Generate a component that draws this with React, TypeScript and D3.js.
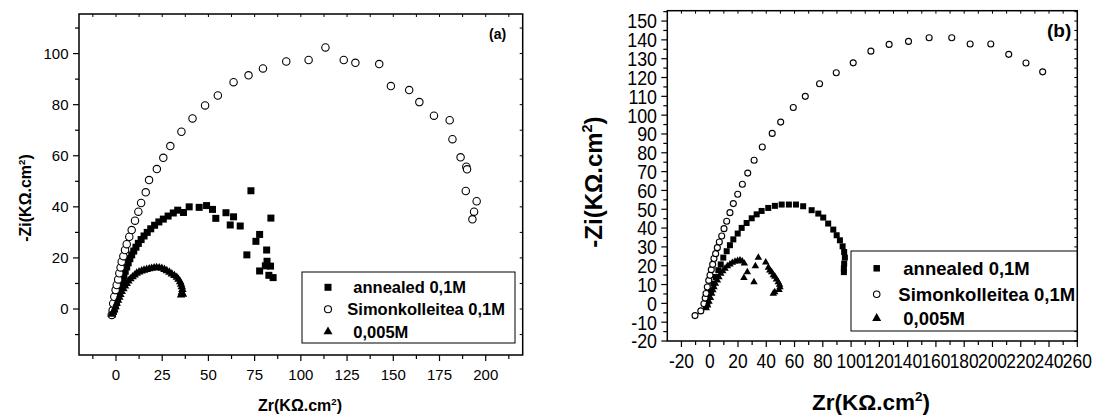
import React from 'react';
import * as d3 from 'd3';

type P = [number, number];

// ---------- Panel (a) data ----------
const annealedA: P[] = [
  [-2, -2], [-1.5, -1], [-1, 0], [-0.4, 1.2], [0.2, 2.5], [0.8, 4], [1.3, 5.5], [1.9, 7], [2.5, 8.5],
  [3.1, 10], [3.7, 11.6], [4.3, 13.2], [5, 14.8], [5.8, 16.5], [6.6, 18.1], [7.5, 19.7], [8.5, 21.2],
  [9.6, 22.7], [10.8, 24.2], [12.1, 25.7], [13.6, 27.2], [15.2, 28.6], [16.9, 30], [18.8, 31.4],
  [20.9, 32.8], [23.2, 34.1], [25.6, 35.2], [28.2, 36.4], [31, 37.6], [33.4, 38.7], [36.5, 37.8],
  [39.6, 40], [45, 39.8], [49, 40.5], [52.2, 39], [54, 35.5], [59.5, 37.7], [63.6, 36.1], [61.8, 32.9],
  [67.2, 32.5], [73, 46.3], [70.8, 21.2], [75.7, 26.5], [77.7, 29.2], [83.8, 35.6], [81.5, 23.1],
  [81.7, 18.7], [80.8, 16.9], [83.6, 16.8], [77.7, 14.9], [82.7, 13.2], [85, 12.3],
];
const simonA: P[] = [
  [-2.3, -2.3], [-1.8, -0.5], [-1.5, 2.2], [-0.9, 4.8], [-0.2, 7.4], [0.4, 9.4], [1.2, 11.6], [1.8, 14],
  [2.5, 16.3], [3.1, 18.5], [4, 20.7], [4.9, 23.1], [5.8, 25.4], [7.2, 28.3], [8.5, 30.9], [10.3, 34.6],
  [12.1, 38.1], [13.6, 41.5], [16.1, 45.7], [17.9, 50.5], [22.1, 54.8], [25.6, 59.2], [29.4, 63.8],
  [35.4, 69.4], [41.4, 74.6], [48.2, 79.7], [55.1, 83.6], [63.6, 88.8], [71.7, 91.5], [79.5, 94.2],
  [92.1, 96.9], [104.2, 97.5], [113.3, 102.4], [123.2, 97.5], [129.5, 96.4], [142.4, 95.9], [148.7, 87.3],
  [158.6, 85.7], [164.1, 81], [172, 75.7], [180.5, 73.9], [182, 66.5], [186.4, 59.4], [189.5, 55.7],
  [189.9, 54.7], [189.2, 46.2], [195.1, 42.2], [193.7, 38.1], [192.8, 35.1],
];
const dilutedA: P[] = [
  [-2.3, -2.1], [-1.6, -1.2], [-0.9, -0.3], [-0.2, 0.9], [0.4, 2.2], [1.1, 3.4], [1.8, 4.6], [2.4, 5.7],
  [3.1, 6.8], [4, 7.9], [4.9, 9], [5.8, 10], [6.7, 11], [7.8, 11.8], [9, 12.6], [10.1, 13.3], [11.2, 14],
  [12.5, 14.5], [13.9, 14.9], [15.2, 15.2], [16.6, 15.5], [18, 15.7], [19.3, 15.9], [20.7, 16.1], [22, 16.2],
  [23.4, 16.1], [24.8, 15.9], [26.2, 15.5], [27.5, 15], [28.9, 14.4], [30.2, 13.7], [31.6, 13.1],
  [32.9, 12.4], [33.8, 11.6], [34.7, 10.7], [35.2, 9.7], [35.6, 8.7], [35.9, 7.6], [35.6, 6.5], [35.2, 5.5],
  [36.2, 5.8],
];

// ---------- Panel (b) data ----------
const annealedB: P[] = [
  [-2.6, -1.9], [-1.7, 0.2], [-0.5, 3.4], [0.9, 6.9], [2.5, 10.5], [4.2, 14], [6.1, 17.6], [7.8, 20.7],
  [9.6, 24.3], [12, 27.7], [14.3, 30.9], [16.7, 34], [19.8, 37.1], [22.6, 40.1], [26.1, 42.7], [29.7, 45.2],
  [33.2, 47.3], [36.7, 49.1], [41.4, 50.7], [46.1, 51.8], [50.9, 52.5], [56, 52.5], [61, 52.5], [66.1, 51.6],
  [72.1, 49.5], [76.8, 47.7], [80.3, 45.6], [83.8, 42.4], [87.4, 39.2], [89.8, 36.2], [92.1, 33.5],
  [94, 30.3], [95.1, 27.3], [95.6, 24.3], [95.1, 21.1], [94.9, 18.5], [94.9, 16.6],
];
const simonB: P[] = [
  [-10.4, -6.5], [-6.3, -4], [-4.1, -0.2], [-3.2, 2.8], [-2.6, 5.2], [-1.7, 8.7], [-0.7, 12.2], [0.2, 14.9],
  [1.1, 17.9], [2.1, 20.7], [3, 23.8], [4.2, 26.4], [5.4, 29.6], [6.8, 32.6], [8.5, 35.8], [10.1, 39.7],
  [12, 43.6], [14.3, 48.2], [16.7, 53], [19.8, 58], [23.1, 63.3], [26.9, 69.2], [31.4, 76], [37.2, 83.1],
  [44.2, 90.3], [50.2, 96.3], [59.1, 104.1], [67.6, 110], [77.7, 116.7], [89.5, 122.5], [101.5, 127.8],
  [114, 134], [126.9, 137.6], [140.6, 139.2], [155.2, 141.1], [171.2, 141.1], [184.2, 137.8],
  [198.8, 137.8], [211.5, 132.3], [223.7, 127.7], [235.5, 123],
];
const dilutedB: P[] = [
  [-2.5, -2.5], [-1.5, -1], [-0.5, 1], [0.5, 3], [1.4, 5.2], [2.2, 7], [3, 8.7], [4, 10.5], [5.4, 12.2],
  [6.5, 14], [7.8, 15.8], [9.2, 17.2], [10.8, 18.5], [12.5, 19.8], [14.3, 20.8], [16, 21.6], [17.9, 22.2],
  [19.7, 22.6], [21.4, 22.8], [23, 22.3], [24.5, 21.2], [26.6, 16.6], [24.2, 13.6], [31.3, 11.3],
  [32.3, 19.8], [34.4, 24.3], [39.6, 21.8], [41.5, 19], [42.5, 17.5], [43.8, 16.6], [45, 15], [46.1, 14.2],
  [47.2, 12.8], [48.5, 11.3], [49.4, 10], [49.7, 8.7], [49, 7.2], [46, 6], [45, 5.2],
];

// ---------- ticks & labels ----------
const xMajorA = [0, 25, 50, 75, 100, 125, 150, 175, 200];
const xMinorA = [-12.5, 12.5, 37.5, 62.5, 87.5, 112.5, 137.5, 162.5, 187.5, 212.5];
const yMajorA = [0, 20, 40, 60, 80, 100];
const yMinorA = [-10, 10, 30, 50, 70, 90, 110];

const xMajorB = [-20, 0, 20, 40, 60, 80, 100, 120, 140, 160, 180, 200, 220, 240, 260];
const xMinorB = [-10, 10, 30, 50, 70, 90, 110, 130, 150, 170, 190, 210, 230, 250];
const yMajorB = [-20, -10, 0, 10, 20, 30, 40, 50, 60, 70, 80, 90, 100, 110, 120, 130, 140, 150];
const yMinorB = [-15, -5, 5, 15, 25, 35, 45, 55, 65, 75, 85, 95, 105, 115, 125, 135, 145, 155];

const seriesNames = ['annealed 0,1M', 'Simonkolleitea 0,1M', '0,005M'];
const seriesKinds = ['square', 'circle', 'triangle'];
const xTitle = 'Zr(KΩ.cm';
const yTitle = '-Zi(KΩ.cm';

const FONT = '"Liberation Sans", Arial, Helvetica, sans-serif';

function Marker({ kind, x, y, s }: { kind: string; x: number; y: number; s: number }) {
  if (kind === 'square') return <rect x={x - s / 2} y={y - s / 2} width={s} height={s} fill="#000" />;
  if (kind === 'circle')
    return <circle cx={x} cy={y} r={s / 2} fill="#fff" stroke="#000" strokeWidth={1.1} />;
  const h = s * 0.866;
  return (
    <path
      d={`M${x},${y - (h * 2) / 3}L${x + s / 2},${y + h / 3}L${x - s / 2},${y + h / 3}Z`}
      fill="#000"
    />
  );
}

type PanelCfg = {
  left: number; right: number; top: number; bottom: number;
  xDomain: [number, number]; yDomain: [number, number];
  xMajor: number[]; xMinor: number[]; yMajor: number[]; yMinor: number[];
  series: P[][]; sizes: number[];
  tickFont: number; tickFontX: number; tickScale: number;
  xLabelBaseline: number; yLabelRight: number;
  xTitleX: number; xTitleY: number; xTitleSize: number;
  yTitleX: number; yTitleY: number; yTitleSize: number;
  legend: { x0: number; y0: number; x1: number; y1: number; symX: number; rows: number[]; textX: number[]; size: number; symSizes: number[] };
  tag: string; tagX: number; tagY: number; tagSize: number;
};

function Panel({ c }: { c: PanelCfg }) {
  const x = d3.scaleLinear().domain(c.xDomain).range([c.left, c.right]);
  const y = d3.scaleLinear().domain(c.yDomain).range([c.bottom, c.top]);
  const sc = c.tickScale;
  return (
    <g fontFamily={FONT}>
      {c.xMajor.map((v) => (
        <line key={'xM' + v} x1={x(v)} x2={x(v)} y1={c.bottom} y2={c.bottom + 6} stroke="#000" strokeWidth={1.2} />
      ))}
      {c.xMinor.map((v) => (
        <line key={'xm' + v} x1={x(v)} x2={x(v)} y1={c.bottom} y2={c.bottom + 4} stroke="#000" strokeWidth={1.2} />
      ))}
      {[...c.xMajor, ...c.xMinor].map((v) => (
        <line key={'xt' + v} x1={x(v)} x2={x(v)} y1={c.top} y2={c.top + 3} stroke="#000" strokeWidth={1} />
      ))}
      {c.yMajor.map((v) => (
        <line key={'yM' + v} x1={c.left - 6} x2={c.left} y1={y(v)} y2={y(v)} stroke="#000" strokeWidth={1.2} />
      ))}
      {c.yMinor.filter((v) => v >= c.yDomain[0] && v <= c.yDomain[1]).map((v) => (
        <line key={'ym' + v} x1={c.left - 4} x2={c.left} y1={y(v)} y2={y(v)} stroke="#000" strokeWidth={1.2} />
      ))}
      {[...c.yMajor, ...c.yMinor].filter((v) => v >= c.yDomain[0] && v <= c.yDomain[1]).map((v) => (
        <line key={'yr' + v} x1={c.right - 3} x2={c.right} y1={y(v)} y2={y(v)} stroke="#000" strokeWidth={1} />
      ))}
      {c.xMajor.map((v) => (
        <g key={'xl' + v} transform={`translate(${x(v)},${c.xLabelBaseline}) scale(${sc},1)`}>
          <text textAnchor="middle" fontSize={c.tickFontX} fill="#000">{v}</text>
        </g>
      ))}
      {c.yMajor.map((v) => (
        <g key={'yl' + v} transform={`translate(${c.yLabelRight},${y(v)}) scale(${sc},1)`}>
          <text textAnchor="end" dy="0.36em" fontSize={c.tickFont} fill="#000">{v}</text>
        </g>
      ))}
      <rect x={c.left} y={c.top} width={c.right - c.left} height={c.bottom - c.top} fill="none" stroke="#000" strokeWidth={1.5} />
      {c.series.map((s, i) => (
        <g key={'s' + i}>
          {s.map((p, j) => (
            <Marker key={j} kind={seriesKinds[i]} x={x(p[0])} y={y(p[1])} s={c.sizes[i]} />
          ))}
        </g>
      ))}
      <rect x={c.legend.x0} y={c.legend.y0} width={c.legend.x1 - c.legend.x0} height={c.legend.y1 - c.legend.y0} fill="#fff" stroke="#000" strokeWidth={1} />
      {seriesNames.map((n, i) => (
        <g key={'lg' + i}>
          <Marker kind={seriesKinds[i]} x={c.legend.symX} y={c.legend.rows[i]} s={c.legend.symSizes[i]} />
          <text x={c.legend.textX[i]} y={c.legend.rows[i]} dy="0.36em" fontSize={c.legend.size} fontWeight="bold" fill="#000">{n}</text>
        </g>
      ))}
      <text x={c.tagX} y={c.tagY} fontSize={c.tagSize} fontWeight="bold" fill="#000">{c.tag}</text>
      <text x={c.xTitleX} y={c.xTitleY} textAnchor="middle" fontSize={c.xTitleSize} fontWeight="bold" fill="#000">
        {xTitle}
        <tspan fontSize={c.xTitleSize * 0.6} dy={-c.xTitleSize * 0.4}>2</tspan>
        <tspan dy={c.xTitleSize * 0.4}>)</tspan>
      </text>
      <text transform={`translate(${c.yTitleX},${c.yTitleY}) rotate(-90)`} textAnchor="middle" fontSize={c.yTitleSize} fontWeight="bold" fill="#000">
        {yTitle}
        <tspan fontSize={c.yTitleSize * 0.6} dy={-c.yTitleSize * 0.4}>2</tspan>
        <tspan dy={c.yTitleSize * 0.4}>)</tspan>
      </text>
    </g>
  );
}

const panelA: PanelCfg = {
  left: 79, right: 522.7, top: 14, bottom: 355,
  xDomain: [-20, 220], yDomain: [-18, 115.5],
  xMajor: xMajorA, xMinor: xMinorA, yMajor: yMajorA, yMinor: yMinorA,
  series: [annealedA, simonA, dilutedA], sizes: [7, 7.4, 8.5],
  tickFont: 15, tickFontX: 15, tickScale: 1,
  xLabelBaseline: 380, yLabelRight: 68.5,
  xTitleX: 300, xTitleY: 411, xTitleSize: 16,
  yTitleX: 31, yTitleY: 198, yTitleSize: 16,
  legend: { x0: 302, y0: 272, x1: 515, y1: 343, symX: 328, rows: [287.3, 309.3, 331.7], textX: [353.3, 347.3, 353.3], size: 16.5, symSizes: [7, 7, 9] },
  tag: '(a)', tagX: 489, tagY: 39, tagSize: 14,
};

const panelB: PanelCfg = {
  left: 667.3, right: 1077.3, top: 10.7, bottom: 341,
  xDomain: [-30, 260], yDomain: [-20, 155.5],
  xMajor: xMajorB, xMinor: xMinorB, yMajor: yMajorB, yMinor: yMinorB,
  series: [annealedB, simonB, dilutedB], sizes: [6, 6, 7.5],
  tickFont: 20.5, tickFontX: 20, tickScale: 0.87,
  xLabelBaseline: 368, yLabelRight: 657,
  xTitleX: 871, xTitleY: 410, xTitleSize: 22.5,
  yTitleX: 602, yTitleY: 182, yTitleSize: 24,
  legend: { x0: 851, y0: 251, x1: 1077, y1: 331, symX: 876.7, rows: [268.3, 294.3, 318.3], textX: [903.3, 898.3, 903.3], size: 18.5, symSizes: [6.5, 6.5, 9] },
  tag: '(b)', tagX: 1047, tagY: 37, tagSize: 19,
};

export default function App() {
  return (
    <svg width={1094} height={416} style={{ position: 'absolute', left: 0, top: 0, background: '#fff' }}>
      <rect x={0} y={0} width={1094} height={416} fill="#fff" />
      <Panel c={panelA} />
      <Panel c={panelB} />
    </svg>
  );
}
